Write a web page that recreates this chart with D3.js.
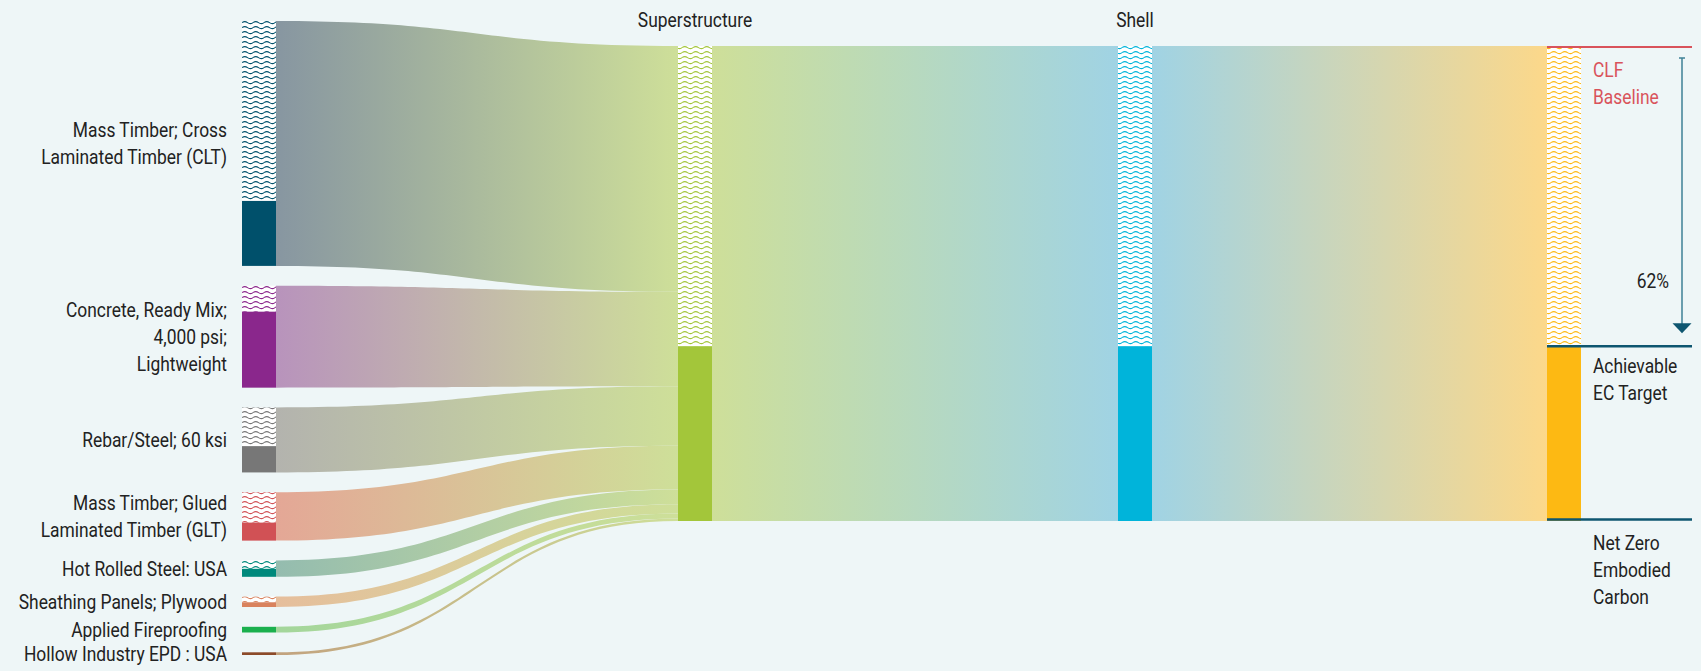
<!DOCTYPE html>
<html><head><meta charset="utf-8">
<script src="https://cdn.jsdelivr.net/npm/d3@7"></script>
<style>
html,body{margin:0;padding:0;background:#EEF6F7;}
svg{display:block;}
text{font-family:Roboto,"Noto Sans",sans-serif;}
</style>
</head><body>
<svg id="chart" width="1701" height="671"></svg>
<script>
// ---------------- data ----------------
const materials = [
  "Mass Timber; Cross Laminated Timber (CLT)",
  "Concrete, Ready Mix; 4,000 psi; Lightweight",
  "Rebar/Steel; 60 ksi",
  "Mass Timber; Glued Laminated Timber (GLT)",
  "Hot Rolled Steel: USA",
  "Sheathing Panels; Plywood",
  "Applied Fireproofing",
  "Hollow Industry EPD : USA"
];
const materialLabelLines = [
  ["Mass Timber; Cross", "Laminated Timber (CLT)"],
  ["Concrete, Ready Mix;", "4,000 psi;", "Lightweight"],
  ["Rebar/Steel; 60 ksi"],
  ["Mass Timber; Glued", "Laminated Timber (GLT)"],
  ["Hot Rolled Steel: USA"],
  ["Sheathing Panels; Plywood"],
  ["Applied Fireproofing"],
  ["Hollow Industry EPD : USA"]
];
// baseline embodied carbon per material (estimated)
const baselineEC   = [245, 102, 65, 48.4, 16.4, 10.4, 5.7, 2.7];
// achievable embodied carbon per material (estimated)
const achievableEC = [65, 76, 26.3, 18, 8, 4.7, 5.7, 2.7];
const materialColors     = ["#00506B","#8A278C","#777777","#D15155","#00897C","#D9825D","#1BB04E","#8C4B2A"];
const materialLinkColors = ["#8796A1","#B893BC","#B3B3AE","#E4A796","#94BCAF","#E6BE9C","#A3D69B","#C2A27E"];

const stages = ["Superstructure", "Shell", "Target"];
const stageLabels = ["Superstructure", "Shell", ""];
const stageColors = ["#A3C63A", "#00B4DA", "#FDB913"];
const stageLinkColors = ["#CEDF99", "#A0D3E4", "#FCD88A"];
const stageAchievableShare = 0.368;   // share of baseline remaining
const reductionLabel = "62%";
const baselineLabel = ["CLF", "Baseline"];
const targetLabel = ["Achievable", "EC Target"];
const zeroLabel = ["Net Zero", "Embodied", "Carbon"];

// ---------------- layout ----------------
const svg = d3.select("#chart");
const W = 1701, H = 671;
svg.append("rect").attr("width", W).attr("height", H).attr("fill", "#EEF6F7");

const nodeW = 34;
const colX = d3.scaleOrdinal().domain([0, 1, 2, 3]).range([242, 678, 1118, 1547]);
const total = d3.sum(baselineEC);

const leftTop = 21, leftBottom = 655, gap = 19.8;
const yLeft = d3.scaleLinear().domain([0, total])
  .range([0, (leftBottom - leftTop) - gap * (materials.length - 1)]);
const yFlow = d3.scaleLinear().domain([0, total]).range([46, 521]);
// where incoming material links stack on the superstructure node
const yInto = d3.scalePow().exponent(0.935).domain([0, total]).range([46, 521]);

const TEXT_SX = 0.87;
const FONT = 20;
const LH = 27;

const defs = svg.append("defs");
function wavePattern(id, color) {
  const p = defs.append("pattern").attr("id", id)
    .attr("patternUnits", "userSpaceOnUse")
    .attr("width", 11).attr("height", 5);
  p.append("rect").attr("width", 11).attr("height", 5).attr("fill", "#FFFFFF");
  p.append("path").attr("d", "M0,2.6 Q2.75,0.6 5.5,2.6 T11,2.6")
    .attr("fill", "none").attr("stroke", color).attr("stroke-width", 1.1);
  return `url(#${id})`;
}
function gradient(id, x0, x1, c0, c1) {
  const g = defs.append("linearGradient").attr("id", id)
    .attr("gradientUnits", "userSpaceOnUse")
    .attr("x1", x0).attr("x2", x1).attr("y1", 0).attr("y2", 0);
  g.append("stop").attr("offset", "0%").attr("stop-color", c0);
  g.append("stop").attr("offset", "100%").attr("stop-color", c1);
  return `url(#${id})`;
}
function ribbon(x0, s0, s1, x1, t0, t1) {
  const xm = (x0 + x1) / 2;
  const p = d3.path();
  p.moveTo(x0, s0);
  p.bezierCurveTo(xm, s0, xm, t0, x1, t0);
  p.lineTo(x1, t1);
  p.bezierCurveTo(xm, t1, xm, s1, x0, s1);
  p.closePath();
  return p.toString();
}
function addText(g, x, y, str, anchor, color) {
  return g.append("text")
    .attr("transform", `translate(${x},${y}) scale(${TEXT_SX},1)`)
    .attr("text-anchor", anchor)
    .attr("font-size", FONT)
    .attr("fill", color || "#222222")
    .text(str);
}

// left nodes
let cum = 0;
const leftNodes = materials.map((m, i) => {
  const y0 = leftTop + yLeft(cum) + i * gap;
  const y1 = y0 + yLeft(baselineEC[i]);
  const ySolid = y1 - yLeft(achievableEC[i]);
  const t0 = yInto(cum), t1 = yInto(cum + baselineEC[i]);
  cum += baselineEC[i];
  return {name: m, i, y0, y1, ySolid, t0, t1};
});

const linkG = svg.append("g");
const nodeG = svg.append("g");
const labelG = svg.append("g");

// links material -> superstructure
leftNodes.forEach(d => {
  const xs = colX(0) + nodeW, xt = colX(1);
  linkG.append("path")
    .attr("d", ribbon(xs, d.y0, d.y1, xt, d.t0, d.t1))
    .attr("fill", gradient("lg" + d.i, xs, xt, materialLinkColors[d.i], stageLinkColors[0]));
});
// stage links
for (let s = 0; s < 2; s++) {
  const xs = colX(s + 1) + nodeW, xt = colX(s + 2);
  linkG.append("path")
    .attr("d", ribbon(xs, yFlow(0), yFlow(total), xt, yFlow(0), yFlow(total)))
    .attr("fill", gradient("sg" + s, xs, xt, stageLinkColors[s], stageLinkColors[s + 1]));
}

// left node rects
leftNodes.forEach(d => {
  const x = colX(0);
  if (d.ySolid - d.y0 > 0.5) {
    nodeG.append("rect").attr("x", x).attr("y", d.y0).attr("width", nodeW)
      .attr("height", d.ySolid - d.y0)
      .attr("fill", wavePattern("wp" + d.i, materialColors[d.i]));
  }
  nodeG.append("rect").attr("x", x).attr("y", d.ySolid).attr("width", nodeW)
    .attr("height", d.y1 - d.ySolid).attr("fill", materialColors[d.i]);

  const lines = materialLabelLines[d.i];
  const cy = (d.y0 + d.y1) / 2;
  lines.forEach((ln, k) => {
    const by = cy + 7 + (k - (lines.length - 1) / 2) * LH;
    addText(labelG, 227, by, ln, "end");
  });
});

// stage nodes
const ySplit = yFlow(total * (1 - stageAchievableShare));
stages.forEach((s, k) => {
  const x = colX(k + 1);
  nodeG.append("rect").attr("x", x).attr("y", yFlow(0)).attr("width", nodeW)
    .attr("height", ySplit - yFlow(0))
    .attr("fill", wavePattern("ws" + k, stageColors[k]));
  nodeG.append("rect").attr("x", x).attr("y", ySplit).attr("width", nodeW)
    .attr("height", yFlow(total) - ySplit).attr("fill", stageColors[k]);
  if (stageLabels[k]) addText(labelG, x + nodeW / 2, 27, stageLabels[k], "middle");
});

// annotation lines on the target column
const ax0 = colX(3), ax1 = 1692;
const yTop = yFlow(0), yBot = yFlow(total);
labelG.append("line").attr("x1", ax0).attr("x2", ax1).attr("y1", yTop + 1).attr("y2", yTop + 1)
  .attr("stroke", "#D9535B").attr("stroke-width", 2.2);
labelG.append("line").attr("x1", ax0).attr("x2", ax1).attr("y1", ySplit).attr("y2", ySplit)
  .attr("stroke", "#0E5670").attr("stroke-width", 2.4);
labelG.append("line").attr("x1", ax0).attr("x2", ax1).attr("y1", yBot - 1.5).attr("y2", yBot - 1.5)
  .attr("stroke", "#0E5670").attr("stroke-width", 2.4);

// arrow
const arX = 1682;
labelG.append("line").attr("x1", arX - 3).attr("x2", arX + 3).attr("y1", yTop + 12).attr("y2", yTop + 12)
  .attr("stroke", "#3E8096").attr("stroke-width", 1.5);
labelG.append("line").attr("x1", arX).attr("x2", arX).attr("y1", yTop + 12).attr("y2", ySplit - 22)
  .attr("stroke", "#3E8096").attr("stroke-width", 1.5);
labelG.append("path")
  .attr("d", `M${arX - 9.5},${ySplit - 23}L${arX + 9.5},${ySplit - 23}L${arX},${ySplit - 13}Z`)
  .attr("fill", "#0E5670");
addText(labelG, 1669, ySplit - 58, reductionLabel, "end");

const lx = 1593;
baselineLabel.forEach((t, k) => addText(labelG, lx, yTop + 31 + k * LH, t, "start", "#D9535B"));
targetLabel.forEach((t, k) => addText(labelG, lx, ySplit + 27 + k * LH, t, "start"));
zeroLabel.forEach((t, k) => addText(labelG, lx, yBot + 29 + k * LH, t, "start"));
</script>
</body></html>
